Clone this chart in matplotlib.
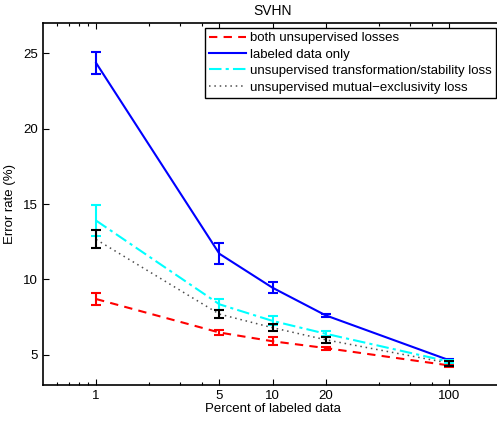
import matplotlib
matplotlib.use('Agg')
import matplotlib.pyplot as plt
from matplotlib.ticker import FixedLocator, NullFormatter

plt.rcParams['font.family'] = ['Liberation Sans', 'DejaVu Sans']

# percent of labeled data
pct = [1, 5, 10, 20, 100]

# error rates (%) and error bar half-lengths
both_mean = [8.7, 6.48, 5.9, 5.45, 4.3]
both_err = [0.4, 0.15, 0.25, 0.1, 0.1]
lab_mean = [24.35, 11.7, 9.45, 7.62, 4.65]
lab_err = [0.75, 0.7, 0.38, 0.1, 0.05]
trans_mean = [13.9, 8.35, 7.25, 6.4, 4.55]
trans_err = [1.05, 0.35, 0.3, 0.15, 0.1]
mutex_mean = [12.65, 7.7, 6.8, 6.0, 4.45]
mutex_err = [0.6, 0.28, 0.25, 0.2, 0.17]

labels = ['both unsupervised losses', 'labeled data only',
          'unsupervised transformation/stability loss',
          'unsupervised mutual\u2212exclusivity loss']

fs = 9.5

fig = plt.figure(figsize=(4.97, 4.21), dpi=100)
ax = fig.add_axes([43 / 497, 36 / 421, 459 / 497, 362 / 421])

series = [
    (both_mean, both_err, 'red', (0, (4, 3)), 1.5, 'red'),
    (lab_mean, lab_err, 'blue', '-', 1.5, 'blue'),
    (trans_mean, trans_err, 'cyan', (0, (6, 2, 1.5, 2)), 1.5, 'cyan'),
    (mutex_mean, mutex_err, '0.3', (0, (1, 2.5)), 1.1, 'black'),
]
handles = []
for (m, e, c, ls, lw, ec), lab in zip(series, labels):
    ax.errorbar(pct, m, yerr=e, fmt='none', ecolor=ec, elinewidth=1.5,
                capsize=3.5, capthick=1.5, zorder=3)
    ln, = ax.plot(pct, m, color=c, linestyle=ls, linewidth=lw, label=lab, zorder=2)
    handles.append(ln)

ax.set_xscale('log')
ax.set_xlim(0.5, 200)
ax.set_ylim(3, 27)
ax.xaxis.set_major_locator(FixedLocator([1, 5, 10, 20, 100]))
ax.xaxis.set_minor_locator(FixedLocator([0.6, 0.7, 0.8, 0.9, 2, 3, 4, 40, 60, 80]))
ax.xaxis.set_minor_formatter(NullFormatter())
ax.set_xticklabels(['1', '5', '10', '20', '100'])
ax.set_yticks([5, 10, 15, 20, 25])
ax.tick_params(which='both', direction='in', top=True, right=False, labelsize=fs)
ax.tick_params(which='major', length=4, width=0.8)
ax.tick_params(which='minor', length=2.5, width=0.8)
for s in ax.spines.values():
    s.set_linewidth(1.2)

ax.set_xlabel('Percent of labeled data', fontsize=fs, labelpad=1)
ax.set_ylabel('Error rate (%)', fontsize=fs, labelpad=5)
ax.set_title('SVHN', fontsize=10, pad=6)

leg = ax.legend(handles=handles, loc='upper right', bbox_to_anchor=(496 / 497, 393 / 421),
                bbox_transform=fig.transFigure, borderaxespad=0, fontsize=fs,
                fancybox=False, framealpha=1, edgecolor='black', handlelength=2.8,
                handletextpad=0.3, labelspacing=0.32, borderpad=0.3)
leg.get_frame().set_linewidth(1.0)

fig.savefig('out.png', dpi=100)
